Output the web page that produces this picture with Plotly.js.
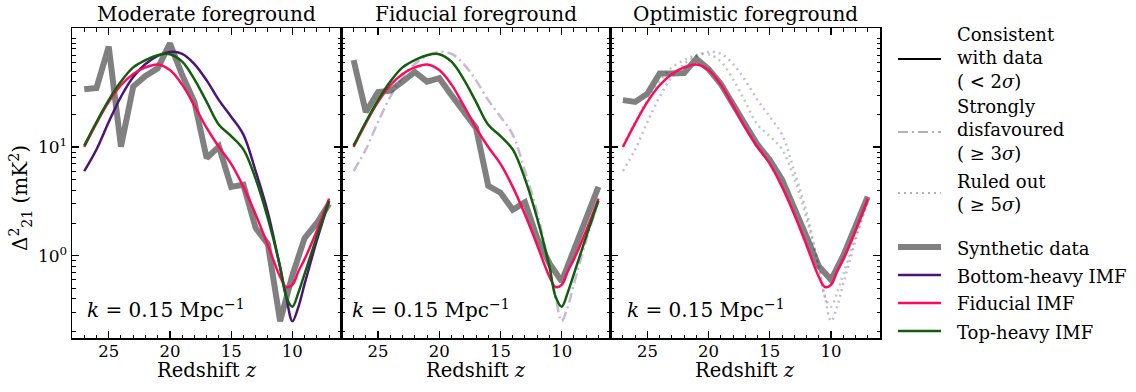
<!DOCTYPE html>
<html><head><meta charset="utf-8">
<script src="https://cdn.plot.ly/plotly-3.0.1.min.js"></script>
<style>html,body{margin:0;padding:0;background:#fff}</style>
</head><body>
<div id="chart" style="width:1136px;height:392px"></div>
<script>
// ---------------- data ----------------
const zSynth = [27,26,25,24,23,22,21,20,19,18,17,16,15,14,13,12,11,10,9,8,7];
const synthModerate   = [34,35,84,10.1,36,45,53,90,46,26,7.9,10.1,4.3,4.5,1.8,1.28,0.25,0.66,1.45,2.0,3.0];
const synthFiducial   = [63,21,32,33,40,49,40,43,30,21.5,15,4.4,3.8,2.65,3.1,1.45,0.85,0.58,1.1,2.15,4.3];
const synthOptimistic = [27,26,31,47.5,47.5,48,65,52,38,24,16,10.5,7.6,5.0,2.8,1.5,0.8,0.6,1.0,1.85,3.5];

const zModel = [27,26,25,24,23,22,21,20,19,18,17,16,15,14,13,12,11,10.5,10,9.5,9,8,7];
const bottomHeavy = [6.0,9.5,17,29,44,58,69,75,72,58,41,27,19,13,6.0,2.5,0.78,0.42,0.25,0.34,0.55,1.38,3.2];
const fiducialIMF = [10,16.5,26,37,47,54,57.5,51,37.5,24,15,10,7,4.3,2.4,1.25,0.64,0.515,0.54,0.72,0.93,1.7,3.35];
const topHeavy    = [10.3,17,27,40,54,63,70,71.5,61,42,26,16,12.6,9.5,5.1,2.2,0.79,0.42,0.34,0.46,0.68,1.5,3.2];

const panelTitles = ['Moderate foreground','Fiducial foreground','Optimistic foreground'];
const xTickVals = [25,20,15,10];
const yTickVals = [1,10];
const yTickText = ['10<sup>0</sup>','10<sup>1</sup>'];
const yMinorVals = [0.2,0.3,0.4,0.5,0.6,0.7,0.8,0.9,2,3,4,5,6,7,8,9,20,30,40,50,60,70,80,90,100];
const legendLabels = [
  'Consistent<br>with data<br>( &lt; 2<i>σ</i>)',
  'Strongly<br>disfavoured<br>( ≥ 3<i>σ</i>)',
  'Ruled out<br>( ≥ 5<i>σ</i>)',
  'Synthetic data','Bottom-heavy IMF','Fiducial IMF','Top-heavy IMF'
];

// ---------------- styling ----------------
const FONT = 'DejaVu Serif';
const W=1136, H=392, L=72, R=256, T=28, B=54;
const PW=W-L-R, PH=H-T-B;
const px = x => (x-L)/PW, py = y => (H-B-y)/PH;

const C_PURPLE = '#4b1478', C_RED = '#ff0a5a', C_GREEN = '#115e0c', C_GRAY = '#808080';
const FAINT_PURPLE = 'rgba(75,20,120,0.3)', FAINT_GREEN = 'rgba(17,94,12,0.3)';
const DASHDOT = '10px,4px,2px,4px', DOTTED = '2px,4px';

const panels = [
  {synth: synthModerate, models: [
    {y: bottomHeavy, color: C_PURPLE, dash: 'solid'},
    {y: fiducialIMF, color: C_RED, dash: 'solid'},
    {y: topHeavy, color: C_GREEN, dash: 'solid'}]},
  {synth: synthFiducial, models: [
    {y: bottomHeavy, color: FAINT_PURPLE, dash: DASHDOT},
    {y: fiducialIMF, color: C_RED, dash: 'solid'},
    {y: topHeavy, color: C_GREEN, dash: 'solid'}]},
  {synth: synthOptimistic, models: [
    {y: bottomHeavy, color: FAINT_PURPLE, dash: DOTTED},
    {y: topHeavy, color: FAINT_GREEN, dash: DOTTED},
    {y: fiducialIMF, color: C_RED, dash: 'solid'}]}
];

const traces = [];
const layout = {
  width: W, height: H, margin: {l:L, r:R, t:T, b:B, pad:0},
  paper_bgcolor: '#fff', plot_bgcolor: '#fff', showlegend: false,
  font: {family: FONT, color: '#000'},
  annotations: [], shapes: []
};

panels.forEach((p, i) => {
  const sfx = i === 0 ? '' : String(i+1);
  const xa = 'x'+sfx, ya = 'y'+sfx;
  traces.push({x: zSynth, y: p.synth, xaxis: xa, yaxis: ya, mode: 'lines',
    line: {color: C_GRAY, width: 6}, hoverinfo: 'skip'});
  p.models.forEach(m => traces.push({x: zModel, y: m.y, xaxis: xa, yaxis: ya, mode: 'lines',
    line: {color: m.color, width: 2.5, dash: m.dash, shape: 'spline', smoothing: 1}, hoverinfo: 'skip'}));

  const dom = [i/3, (i+1)/3];
  layout['xaxis'+sfx] = {
    domain: dom, anchor: ya, range: [28, 6], autorange: false,
    showgrid: false, zeroline: false, showline: true, linecolor: '#000', linewidth: 1.5,
    mirror: 'allticks', ticks: 'inside', ticklen: 7, tickwidth: 1.2, tickcolor: '#000',
    tickmode: 'array', tickvals: xTickVals, ticktext: xTickVals.map(String),
    ticklabelstandoff: -2,
    tickfont: {family: FONT, size: 16.5, color: '#000'},
    minor: {tickmode: 'linear', tick0: 0, dtick: 1, ticks: 'inside', ticklen: 3.5, tickwidth: 1, tickcolor: '#000', showgrid: false}
  };
  layout['yaxis'+sfx] = {
    domain: [0, 1], anchor: xa, type: 'log', range: [-0.757, 2.095], autorange: false,
    showgrid: false, zeroline: false, showline: true, linecolor: '#000', linewidth: 1.5,
    mirror: 'allticks', ticks: 'inside', ticklen: 7, tickwidth: 1.2, tickcolor: '#000',
    tickmode: 'array', tickvals: yTickVals, ticktext: yTickText, showticklabels: i === 0,
    tickfont: {family: FONT, size: 17, color: '#000'},
    minor: {tickmode: 'array', tickvals: yMinorVals, ticks: 'inside', ticklen: 3.5, tickwidth: 1, tickcolor: '#000', showgrid: false}
  };
  // panel title
  layout.annotations.push({xref: 'paper', yref: 'paper', x: (i+0.5)/3, y: py(14),
    xanchor: 'center', yanchor: 'middle', showarrow: false, text: panelTitles[i],
    font: {family: FONT, size: 20, color: '#000'}});
  // x title
  layout.annotations.push({xref: 'paper', yref: 'paper', x: (i+0.5)/3, y: py(370),
    xanchor: 'center', yanchor: 'middle', showarrow: false, text: 'Redshift <i>z</i>',
    font: {family: FONT, size: 19.5, color: '#000'}});
  // k label
  const kx = [85, 350, 625][i];
  layout.annotations.push({xref: 'paper', yref: 'paper', x: px(kx), y: py(309),
    xanchor: 'left', yanchor: 'middle', showarrow: false, text: '<i>k</i> = 0.15 Mpc<sup>−1</sup>',
    font: {family: FONT, size: 20, color: '#000'}});
});

// y title
layout.annotations.push({xref: 'paper', yref: 'paper', x: px(20), y: py(198),
  xanchor: 'center', yanchor: 'middle', showarrow: false, textangle: -90,
  text: 'Δ<sup>2</sup><sub>21</sub> (mK<sup>2</sup>)', font: {family: FONT, size: 20, color: '#000'}});

// legend (drawn manually)
const legendItems = [
  {lineY: 59,  textY: 57.5, color: '#000', width: 2, dash: 'solid'},
  {lineY: 132, textY: 130,  color: 'rgba(0,0,0,0.3)', width: 2, dash: DASHDOT},
  {lineY: 193, textY: 192.5,color: 'rgba(0,0,0,0.3)', width: 2, dash: DOTTED},
  {lineY: 247, textY: 248,  color: C_GRAY, width: 6, dash: 'solid'},
  {lineY: 275, textY: 276,  color: C_PURPLE, width: 2.5, dash: 'solid'},
  {lineY: 303, textY: 303,  color: C_RED, width: 2.5, dash: 'solid'},
  {lineY: 331, textY: 332,  color: C_GREEN, width: 2.5, dash: 'solid'}
];
legendItems.forEach((it, k) => {
  layout.shapes.push({type: 'line', xref: 'paper', yref: 'paper', x0: px(898), x1: px(941),
    y0: py(it.lineY), y1: py(it.lineY), line: {color: it.color, width: it.width, dash: it.dash}});
  layout.annotations.push({xref: 'paper', yref: 'paper', x: px(955), y: py(it.textY),
    xanchor: 'left', yanchor: 'middle', align: 'left', showarrow: false, text: legendLabels[k],
    font: {family: FONT, size: 18, color: '#000'}});
});

Plotly.newPlot('chart', traces, layout, {staticPlot: true, displayModeBar: false});
</script>
</body></html>
